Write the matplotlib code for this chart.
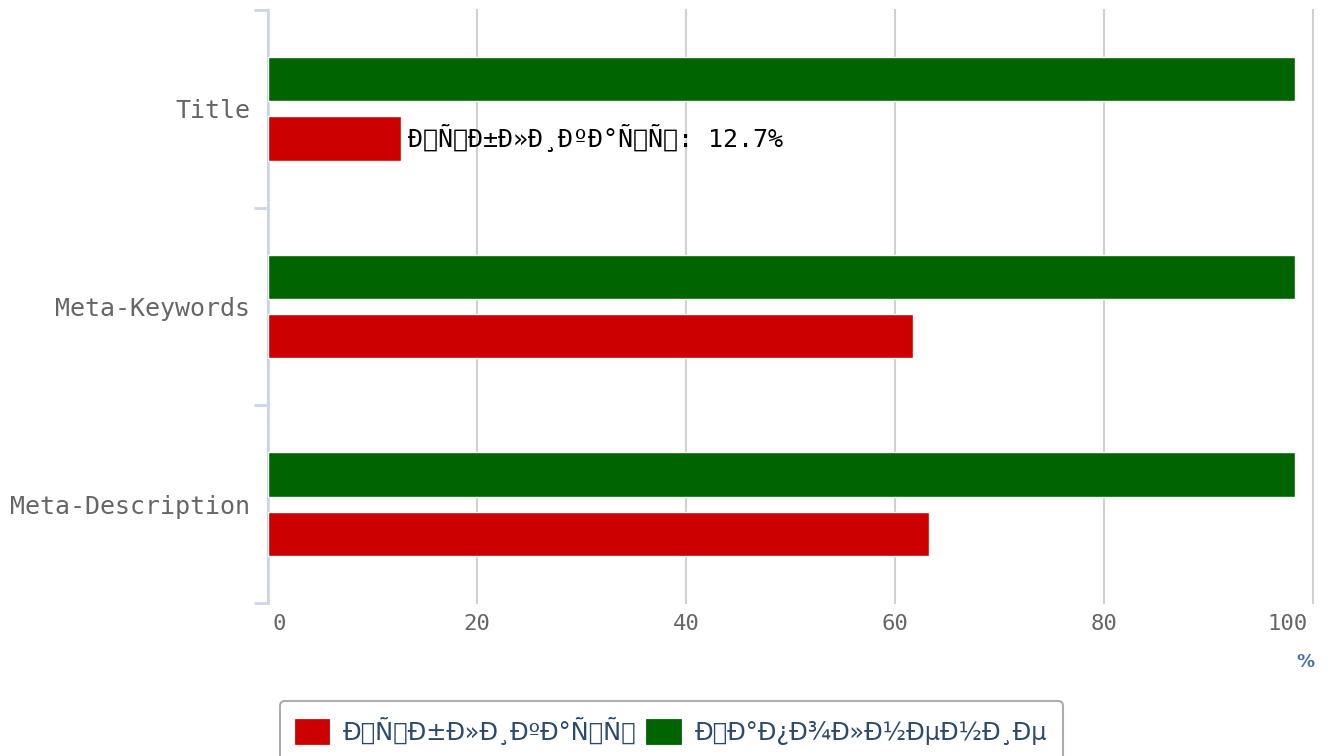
import matplotlib.pyplot as plt
import matplotlib.transforms as mtransforms
import numpy as np
from matplotlib.patches import Patch

# data
categories = ["Title", "Meta-Keywords", "Meta-Description"]
filled = [98.3, 98.3, 98.3]
published = [12.7, 61.7, 63.3]
x_ticks = [0, 20, 40, 60, 80, 100]

# labels as they appear in the picture (mis-decoded utf-8)
label_pub = "Ð\x9fÑ\x83Ð±Ð»Ð¸ÐºÐ°Ñ\x86Ñ\x8f"
label_fill = "Ð\x97Ð°Ð¿Ð¾Ð»Ð½ÐµÐ½Ð¸Ðµ"

red = "#cc0000"
green = "#006400"
axis_blue = "#ccd6eb"

fig = plt.figure(figsize=(13.28, 7.56), dpi=100)
ax = fig.add_axes([268 / 1328, 1 - 603 / 756, (1313 - 268) / 1328, (603 - 10) / 756])

y = np.arange(len(categories))
ax.barh(y - 0.15, filled, height=0.225, color=green, edgecolor="white", linewidth=1, zorder=3)
ax.barh(y + 0.15, published, height=0.225, color=red, edgecolor="white", linewidth=1, zorder=3)

ax.set_xlim(0, 100)
ax.set_ylim(2.5, -0.5)

ax.set_xticks(x_ticks)
ax.set_xticklabels([str(t) for t in x_ticks], family="DejaVu Sans Mono")
ax.xaxis.grid(True, color="#d0d0d0", linewidth=1.5)
for gl in ax.get_xgridlines():
    gl.set_clip_on(False)
ax.set_axisbelow(True)
ax.tick_params(axis="x", length=0, labelsize=16, labelcolor="#666666", pad=8)
xl = ax.get_xticklabels()
xl[0].set_horizontalalignment("left")
xl[0].set_transform(xl[0].get_transform() + mtransforms.ScaledTranslation(4 / 100, 0, fig.dpi_scale_trans))
xl[-1].set_horizontalalignment("right")
xl[-1].set_transform(xl[-1].get_transform() + mtransforms.ScaledTranslation(-5 / 100, 0, fig.dpi_scale_trans))

ax.set_yticks(y)
ax.set_yticklabels(categories, family="DejaVu Sans Mono")
ax.tick_params(axis="y", which="major", length=0, labelsize=18, labelcolor="#666666", pad=13)
ax.set_yticks([-0.5, 0.5, 1.5, 2.5], minor=True)
ax.tick_params(axis="y", which="minor", length=10, width=2, color=axis_blue)

for s in ["top", "right", "bottom"]:
    ax.spines[s].set_visible(False)
ax.spines["left"].set_color(axis_blue)
ax.spines["left"].set_linewidth(2)

ax.annotate(f"{label_pub}: {published[0]}%", xy=(published[0], y[0] + 0.15),
            xytext=(5, 0), textcoords="offset points", va="center", ha="left",
            family="DejaVu Sans Mono", fontsize=18, color="black")

fig.text(1305 / 1328, 1 - 662 / 756, "%", ha="center", va="center",
         color="#4572a7", fontsize=13, fontweight="bold")

handles = [Patch(facecolor=red, edgecolor=red, linewidth=2, joinstyle="round", label=label_pub),
           Patch(facecolor=green, edgecolor=green, linewidth=2, joinstyle="round", label=label_fill)]
leg = fig.legend(handles=handles, loc="upper left", bbox_to_anchor=(280 / 1328, 1 - 701 / 756),
                 borderaxespad=0, ncol=2, frameon=True, fancybox=True, fontsize=17.4,
                 labelcolor="#2b4a6e", handlelength=1.35, handleheight=1.1,
                 columnspacing=0.45, handletextpad=0.6, borderpad=0.65)
leg.get_frame().set_edgecolor("#999999")
leg.get_frame().set_linewidth(1.5)

fig.savefig("out.png", dpi=100)
